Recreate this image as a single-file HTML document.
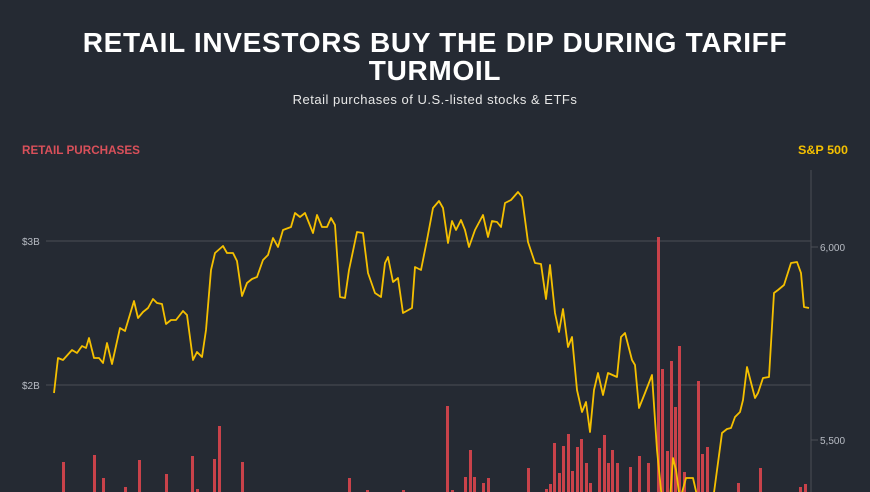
<!DOCTYPE html>
<html><head><meta charset="utf-8"><style>
html,body{margin:0;padding:0;background:#252a33;}
body{width:870px;height:492px;overflow:hidden;position:relative;font-family:"Liberation Sans",sans-serif;}
.t{position:absolute;left:0;width:870px;text-align:center;color:#fff;font-weight:bold;font-size:28px;letter-spacing:0.7px;}
</style></head><body>
<div class="t" style="top:27px">RETAIL INVESTORS BUY THE DIP DURING TARIFF</div>
<div class="t" style="top:55px">TURMOIL</div>
<div style="position:absolute;top:92px;left:0;width:870px;text-align:center;color:#e8e8e8;font-size:13px;letter-spacing:0.5px">Retail purchases of U.S.-listed stocks &amp; ETFs</div>
<svg width="870" height="492" style="position:absolute;left:0;top:0">
<g font-family="Liberation Sans" font-weight="bold" font-size="12">
<text x="22" y="154" fill="#d9505a" textLength="118" lengthAdjust="spacingAndGlyphs">RETAIL PURCHASES</text>
<text x="848" y="154" fill="#f5c000" text-anchor="end" textLength="50" lengthAdjust="spacingAndGlyphs">S&amp;P 500</text>
</g>
<line x1="46" y1="241" x2="811" y2="241" stroke="#4a4e56" stroke-width="1"/>
<line x1="46" y1="385" x2="811" y2="385" stroke="#4a4e56" stroke-width="1"/>
<line x1="811" y1="170" x2="811" y2="492" stroke="#4a4e56" stroke-width="1"/>
<line x1="811" y1="247" x2="818" y2="247" stroke="#4a4e56"/>
<line x1="811" y1="440" x2="818" y2="440" stroke="#4a4e56"/>
<g font-family="Liberation Sans" font-size="10" fill="#b8bcc4">
<text x="22" y="245">$3B</text>
<text x="22" y="389">$2B</text>
<text x="820" y="251">6,000</text>
<text x="820" y="444">5,500</text>
</g>
<g fill="#c9424a">
<rect x="62" y="462" width="3" height="40"/><rect x="93" y="455" width="3" height="40"/><rect x="102" y="478" width="3" height="20"/><rect x="124" y="487" width="3" height="20"/><rect x="138" y="460" width="3" height="40"/><rect x="165" y="474" width="3" height="20"/><rect x="191" y="456" width="3" height="40"/><rect x="196" y="489" width="3" height="20"/><rect x="213" y="459" width="3" height="40"/><rect x="218" y="426" width="3" height="70"/><rect x="241" y="462" width="3" height="40"/><rect x="348" y="478" width="3" height="20"/><rect x="366" y="490" width="3" height="20"/><rect x="402" y="490" width="3" height="20"/>
<rect x="446" y="406" width="3" height="90"/><rect x="451" y="490" width="3" height="9"/><rect x="464" y="477" width="3" height="20"/><rect x="469" y="450" width="3" height="50"/><rect x="473" y="477" width="3" height="20"/><rect x="482" y="483" width="3" height="20"/><rect x="487" y="478" width="3" height="20"/><rect x="527" y="468" width="3" height="30"/><rect x="545" y="489" width="3" height="9"/><rect x="549" y="484" width="3" height="20"/><rect x="553" y="443" width="3" height="50"/><rect x="558" y="473" width="3" height="20"/><rect x="562" y="446" width="3" height="50"/><rect x="567" y="434" width="3" height="60"/><rect x="571" y="471" width="3" height="30"/><rect x="576" y="447" width="3" height="50"/><rect x="580" y="439" width="3" height="60"/><rect x="585" y="463" width="3" height="30"/><rect x="589" y="483" width="3" height="20"/><rect x="598" y="448" width="3" height="50"/><rect x="603" y="435" width="3" height="60"/><rect x="607" y="463" width="3" height="30"/><rect x="611" y="450" width="3" height="50"/><rect x="616" y="463" width="3" height="30"/><rect x="629" y="467" width="3" height="30"/><rect x="638" y="456" width="3" height="40"/><rect x="647" y="463" width="3" height="30"/><rect x="657" y="237" width="3" height="260"/><rect x="661" y="369" width="3" height="130"/><rect x="666" y="451" width="3" height="50"/><rect x="670" y="361" width="3" height="140"/><rect x="674" y="407" width="3" height="90"/><rect x="678" y="346" width="3" height="150"/><rect x="683" y="472" width="3" height="30"/><rect x="697" y="381" width="3" height="120"/><rect x="701" y="454" width="3" height="40"/><rect x="706" y="447" width="3" height="50"/><rect x="737" y="483" width="3" height="20"/><rect x="759" y="468" width="3" height="30"/><rect x="799" y="487" width="3" height="20"/><rect x="804" y="484" width="3" height="20"/>
</g>
<polyline fill="none" stroke="#f5c000" stroke-width="1.8" stroke-linejoin="round" points="54,393 58,358 63,360 72,350 77,353 82,346 86,348 89,338 94,358 99,358 103,363 107,343 112,364 120,328 125,331 134,301 138,318 143,312 148,308 153,299 157,303 162,304 166,324 171,320 176,320 183,311 187,315 193,360 197,352 202,357 206,330 211,270 215,253 223,246 227,253 233,253 237,261 242,296 247,283 252,279 257,277 263,260 268,255 273,238 278,247 283,230 291,227 295,213 300,217 305,213 313,233 317,215 322,227 327,227 331,218 335,225 340,297 345,298 349,270 357,232 363,233 368,273 375,293 381,297 385,263 388,257 393,282 398,278 403,313 412,308 415,267 421,270 427,240 433,208 439,201 443,208 448,243 452,221 456,230 461,220 465,230 469,247 475,230 483,215 488,237 492,221 497,222 501,227 505,203 511,200 518,192 522,197 528,242 535,263 541,264 546,299 550,265 555,313 559,332 563,309 568,347 572,337 577,390 582,412 586,402 590,432 594,390 598,373 603,395 608,373 617,377 621,337 625,333 632,360 635,365 639,408 645,393 652,375 657,450 662,500 670,500 673,458 676,470 680,500 686,478 693,478 698,500 713,500 722,433 727,429 731,428 735,417 740,412 743,400 747,367 755,398 758,393 763,378 769,377 774,293 778,290 784,285 791,263 797,262 801,273 804,307 809,308"/>
</svg>
</body></html>
